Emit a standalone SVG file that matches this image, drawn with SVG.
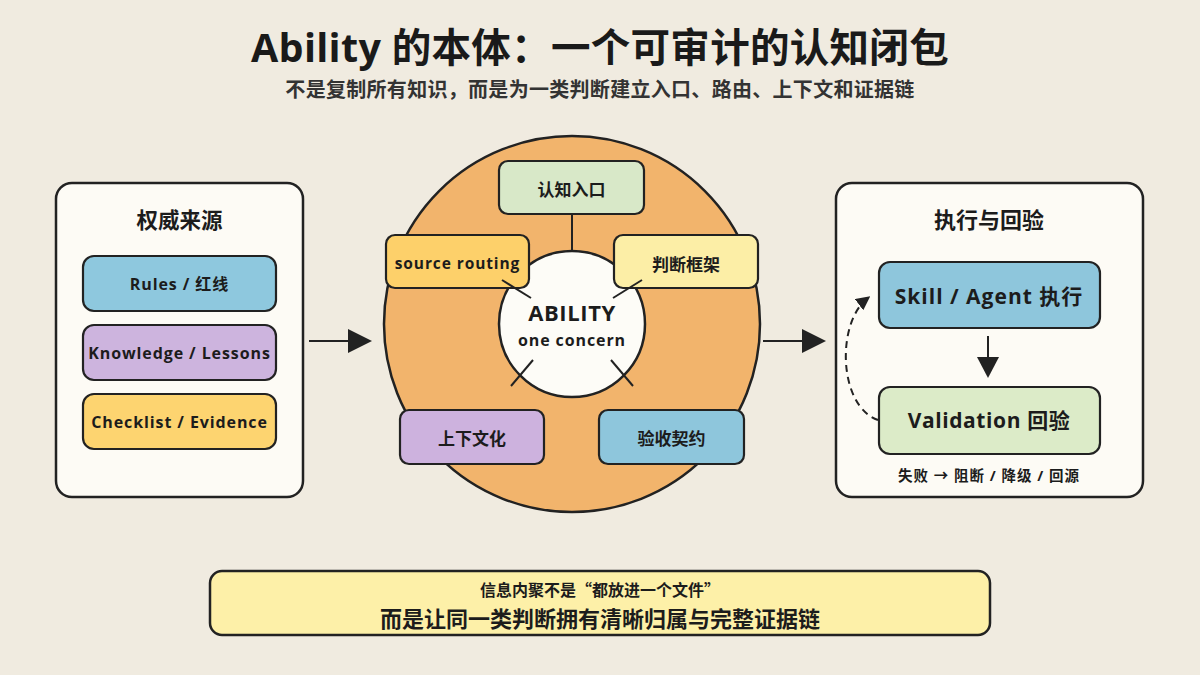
<svg xmlns="http://www.w3.org/2000/svg" width="1200" height="675" viewBox="0 0 1200 675">
<style>
  text { font-family: "Open Sans", "Noto Sans CJK SC", sans-serif; fill: #1c1c1c; text-anchor: middle; dominant-baseline: central; font-weight: 700; }
  .cjk { font-family: "Noto Sans CJK SC", sans-serif; }
  .lat { letter-spacing: 0.9px; }
  .panel { fill: #FDFBF5; stroke: #222; stroke-width: 2.5; }
  .box { stroke: #222; stroke-width: 2.2; }
  .ln { stroke: #222; stroke-width: 2; fill: none; }
</style>
<defs>
  <marker id="ah" viewBox="0 0 10 10" refX="8" refY="5" markerWidth="14" markerHeight="14" orient="auto" markerUnits="userSpaceOnUse">
    <path d="M0,0 L10,5 L0,10 z" fill="#222"/>
  </marker>
</defs>
<rect width="1200" height="675" fill="#F0EBE0"/>

<g id="title">
  <text x="600" y="47" font-size="39.5" style="fill:#1a1a1a;letter-spacing:0.3px">Ability 的本体：一个可审计的认知闭包</text>
  <text class="cjk" x="600" y="88" font-size="20" style="fill:#333;letter-spacing:0.3px">不是复制所有知识，而是为一类判断建立入口、路由、上下文和证据链</text>
</g>

<g id="sources">
  <rect class="panel" x="56" y="183" width="247" height="314" rx="16"/>
  <text class="cjk" x="179.5" y="218" font-size="21.5">权威来源</text>
  <rect class="box" x="83" y="256" width="193" height="55" rx="11" fill="#8EC8DE"/>
  <text class="lat" x="179.5" y="284" font-size="16">Rules / 红线</text>
  <rect class="box" x="83" y="325" width="193" height="55" rx="11" fill="#CDB4DE"/>
  <text class="lat" x="179.5" y="353" font-size="16">Knowledge / Lessons</text>
  <rect class="box" x="83" y="394" width="193" height="55" rx="11" fill="#FDD470"/>
  <text class="lat" x="179.5" y="422" font-size="16">Checklist / Evidence</text>
</g>

<g id="ability">
  <circle cx="572" cy="324" r="188" fill="#F2B46C" stroke="#222" stroke-width="2.5"/>
  <circle cx="572" cy="324" r="73" fill="#FDFCF7" stroke="#222" stroke-width="2.5"/>
  <text x="572" y="312" font-size="22" style="letter-spacing:0.6px">ABILITY</text>
  <text class="lat" x="572" y="340" font-size="16">one concern</text>
</g>

<g id="entry">
  <rect class="box" x="499" y="161" width="145" height="53" rx="9" fill="#D8E8C8"/>
  <text class="cjk" x="571.5" y="188" font-size="17">认知入口</text>
</g>
<g id="routing">
  <rect class="box" x="386" y="235" width="143" height="53" rx="9" fill="#FDD06A"/>
  <text class="lat" x="457.5" y="263" font-size="15.5">source routing</text>
</g>
<g id="judgement">
  <rect class="box" x="614" y="235" width="144" height="53" rx="9" fill="#FCEEA6"/>
  <text class="cjk" x="686" y="263" font-size="17">判断框架</text>
</g>
<g id="context">
  <rect class="box" x="400" y="410" width="144" height="54" rx="9" fill="#CDB2DE"/>
  <text class="cjk" x="472" y="437" font-size="17">上下文化</text>
</g>
<g id="acceptance">
  <rect class="box" x="599" y="410" width="145" height="54" rx="9" fill="#8EC6DC"/>
  <text class="cjk" x="671.5" y="437" font-size="17">验收契约</text>
</g>

<g id="execution">
  <rect class="panel" x="836" y="183" width="307" height="314" rx="16"/>
  <text class="cjk" x="989" y="218" font-size="22">执行与回验</text>
  <rect class="box" x="879" y="262" width="221" height="66" rx="11" fill="#8EC6DC"/>
  <text x="989" y="296" font-size="21" style="letter-spacing:1px">Skill / Agent 执行</text>
  <rect class="box" x="879" y="387" width="221" height="67" rx="11" fill="#DCEBC8"/>
  <text x="989" y="420" font-size="21" style="letter-spacing:0.6px">Validation 回验</text>
  <text x="989" y="475" font-size="14.5" font-weight="600" style="letter-spacing:1px">失败 → 阻断 / 降级 / 回源</text>
</g>

<g id="summary">
  <rect x="210" y="571" width="780" height="64" rx="12" fill="#FDF0A8" stroke="#222" stroke-width="2.5"/>
  <text class="cjk" x="600" y="589" font-size="16">信息内聚不是“都放进一个文件”</text>
  <text class="cjk" x="600" y="617" font-size="22">而是让同一类判断拥有清晰归属与完整证据链</text>
</g>

<g id="connectors">
  <line class="ln" x1="309" y1="341" x2="352" y2="341" stroke-width="3"/>
  <polygon points="348,329 372,341 348,353" fill="#222"/>
  <line class="ln" x1="763" y1="341" x2="806" y2="341" stroke-width="3"/>
  <polygon points="802,329 826,341 802,353" fill="#222"/>
  <line class="ln" x1="988" y1="336" x2="988" y2="360" stroke-width="3"/>
  <polygon points="977,357 999,357 988,378" fill="#222"/>
  <path class="ln" d="M878,420 C838,406 836,322 868,298" stroke-dasharray="7,5" marker-end="url(#ah)"/>
  <line class="ln" x1="572" y1="214" x2="572" y2="250"/>
  <line class="ln" x1="502" y1="280" x2="531" y2="298"/>
  <line class="ln" x1="642" y1="280" x2="613" y2="298"/>
  <line class="ln" x1="533" y1="360" x2="511" y2="386"/>
  <line class="ln" x1="611" y1="360" x2="633" y2="386"/>
</g>
</svg>
